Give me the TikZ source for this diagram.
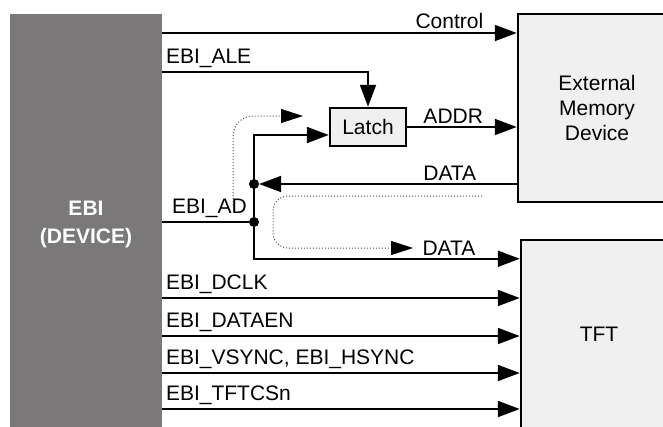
\documentclass[tikz,border=0pt]{standalone}
\usepackage{fontspec}
\setmainfont{Liberation Sans}
\usepackage{xcolor}
\usepackage{tikz}
\usetikzlibrary{arrows.meta, positioning, calc}

\definecolor{ebigray}{HTML}{7A7878}
\definecolor{boxfill}{HTML}{F0F0F0}

\begin{document}
\begin{tikzpicture}[
        x=1pt, y=-1pt,
        font=\fontsize{21}{25}\selectfont,
        block/.style={rectangle, draw, line width=2.5pt, fill=boxfill, align=center, inner sep=0pt},
        sig/.style={-{Triangle[length=22pt, width=16pt]}, line width=2pt},
        wire/.style={line width=2pt},
        flow/.style={dotted, line width=1pt, black!70, -{Triangle[length=22pt, width=14pt, color=black]}},
        dot/.style={circle, fill, inner sep=0pt, minimum size=10pt},
        lbl/.style={inner sep=3pt}
    ]
    \clip (0,0) rectangle (663,426);

    % Nodes
    \node[fill=ebigray, minimum width=152pt, minimum height=420pt, inner sep=0pt, align=center,
          text=white, font=\fontsize{21}{28}\selectfont\bfseries] (ebi) at (86,224) {EBI\\(DEVICE)};
    \node[block, minimum width=158pt, minimum height=188pt] (mem) at (597,108) {External\\Memory\\Device};
    \node[block, minimum width=156pt, minimum height=188pt] (tft) at (599,334) {TFT};
    \node[block, minimum width=76pt, minimum height=38pt] (latch) at (368,127) {Latch};
    \node[dot] (j1) at (254,184) {};
    \node[dot] (j2) at (254,222) {};

    \coordinate (ctl) at (162,33);
    \coordinate (ale) at (162,72);
    \coordinate (ad) at (162,222);
    \coordinate (dclk) at (162,298);
    \coordinate (dataen) at (162,336);
    \coordinate (sync) at (162,373);
    \coordinate (cs) at (162,409);

    % Edges
    \draw[sig] (ctl) -- node[lbl, above, pos=0.81] {Control} (ctl -| mem.west);
    \draw[sig] (ale) -| node[lbl, above right, pos=0] {EBI\_ALE} (latch.north);
    \draw[sig] (latch.east) -- node[lbl, above, pos=0.42] {ADDR} (latch.east -| mem.west);
    \draw[wire] (ad) -- node[lbl, above right, pos=0, xshift=6pt] {EBI\_AD} (j2);
    \draw[sig] (j2) |- ([yshift=-8pt]latch.west);
    \draw[sig] (j1 -| mem.west) -- node[lbl, above, pos=0.26] {DATA} (j1);
    \draw[sig] (j2) |- ([yshift=-20pt]tft.north west);

    \draw[sig] (dclk) -- node[lbl, above right, pos=0] {EBI\_DCLK} (dclk -| tft.west);
    \draw[sig] (dataen) -- node[lbl, above right, pos=0] {EBI\_DATAEN} (dataen -| tft.west);
    \draw[sig] (sync) -- node[lbl, above right, pos=0] {EBI\_VSYNC, EBI\_HSYNC} (sync -| tft.west);
    \draw[sig] (cs) -- node[lbl, above right, pos=0] {EBI\_TFTCSn} (cs -| tft.west);

    % Data flow
    \draw[flow, rounded corners=20pt] (233,205) |- (303,116);
    \draw[flow, rounded corners=15pt] (482,196) -| (273,248) -- (413,248)
        node[lbl, right, xshift=6pt, black] {DATA};

\end{tikzpicture}
\end{document}
